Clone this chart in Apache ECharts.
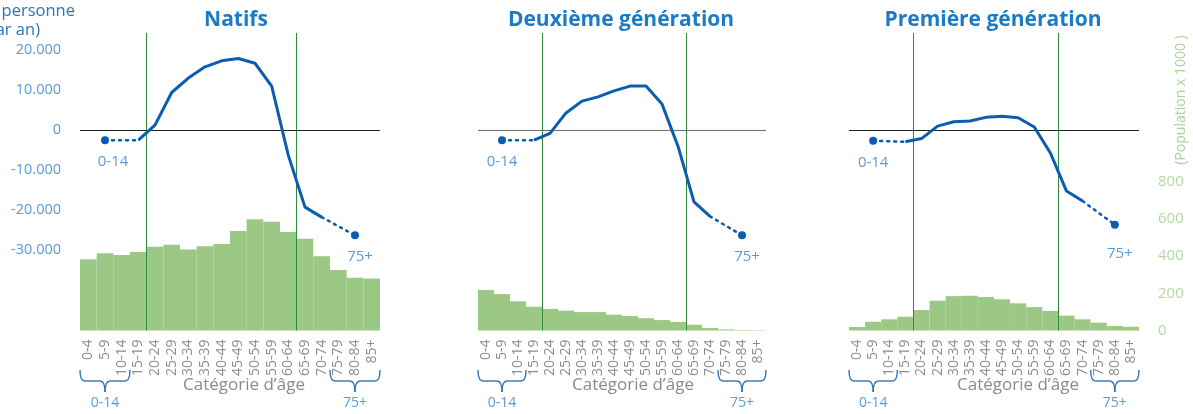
<!DOCTYPE html>
<html>
<head>
<meta charset="utf-8">
<script src="https://cdn.jsdelivr.net/npm/echarts@6/dist/echarts.min.js"></script>
<style>
  html, body { margin: 0; padding: 0; background: #fff; }
  #main { width: 1193px; height: 414px; }
</style>
</head>
<body>
<div id="main"></div>
<script>
// catégories d'âge (axe x)
const ageCats = ['0-4','5-9','10-14','15-19','20-24','25-29','30-34','35-39','40-44',
  '45-49','50-54','55-59','60-64','65-69','70-74','75-79','80-84','85+'];
const panelTitles = ['Natifs', 'Deuxième génération', 'Première génération'];

// population x 1000 (barres)
const popNatifs    = [383,415,406,422,450,461,436,453,465,535,598,585,530,494,399,325,284,279];
const popDeuxieme  = [218,196,157,128,116,107,99,99,85,78,66,56,46,31,13,6,3,2];
const popPremiere  = [19,47,60,74,110,160,185,187,180,168,146,126,105,80,60,42,24,20];

// contribution nette par personne, de 15-19 à 70-74
const contribNatifs   = [-2500,1250,9400,13000,15800,17300,17900,16700,11000,-6300,-19200,-21700];
const contribDeuxieme = [-2500,-800,4300,7250,8300,9800,11000,11000,6500,-4000,-17900,-21500];
const contribPremiere = [-2900,-2100,1000,2100,2300,3200,3500,3100,800,-5700,-15200,-17700];
// groupes agrégés
const contrib014    = [-2500, -2500, -2650];
const contrib75plus = [-26250, -26250, -23600];

const leftTicks = [-30000, -20000, -10000, 0, 10000, 20000];
const rightTicks = [0, 200, 400, 600, 800];

const pops = [popNatifs, popDeuxieme, popPremiere];
const contribs = [contribNatifs, contribDeuxieme, contribPremiere];

// mise en page
const grids = [
  { left: 80, width: 300 },
  { left: 478, width: 288 },
  { left: 849, width: 290 }
];
const titleX = [231, 616, 988];
const xNameX = [244, 633, 1018];
const zeroColors = ['#222', '#6e6e6e', '#222'];
const label014Off = [[8, 0], [0, 0], [0, 0]];
const label75Dist = [10, 10, 18];

const FONT = 'Open Sans';
const BLUE = '#0b5daf';
const LABEL_BLUE = '#5b9bd5';
const BAR_GREEN = '#9bc985';
const VLINE = '#2f8a3c';

function fmt(v) {
  const s = Math.abs(v).toString().replace(/\B(?=(\d{3})+(?!\d))/g, '.');
  return (v < 0 ? '-' : '') + s;
}

const chart = echarts.init(document.getElementById('main'));

const option = {
  animation: false,
  title: panelTitles.map((t, p) => ({
    text: t, left: titleX[p], top: 5, textAlign: 'center',
    textStyle: { fontSize: 21, fontWeight: 'bold', color: '#1b7bc4', fontFamily: FONT }
  })),
  grid: grids.map(g => ({ left: g.left, width: g.width, top: 33, height: 297.5 })),
  xAxis: [],
  yAxis: [],
  series: []
};

for (let p = 0; p < 3; p++) {
  option.xAxis.push({
    type: 'category', gridIndex: p, data: ageCats, boundaryGap: true,
    axisLine: { show: false }, axisTick: { show: false },
    axisLabel: { rotate: 90, interval: 0, margin: 9, color: '#8c8c8c', fontSize: 14, fontFamily: FONT }
  });
}
for (let p = 0; p < 3; p++) {
  // axe caché pour placer les lignes verticales entre les catégories
  option.xAxis.push({ type: 'value', gridIndex: p, min: -0.5, max: 17.5, show: false });
}
for (let p = 0; p < 3; p++) {
  option.yAxis.push({
    type: 'value', gridIndex: p, min: -50000, max: 24250, interval: 10000,
    splitLine: { show: false }, axisLine: { show: false }, axisTick: { show: false },
    axisLabel: {
      show: p === 0, margin: 19, color: LABEL_BLUE, fontSize: 14.5, fontFamily: FONT,
      showMaxLabel: false,
      formatter: v => leftTicks.indexOf(v) >= 0 ? fmt(v) : ''
    }
  });
}
for (let p = 0; p < 3; p++) {
  option.yAxis.push({
    type: 'value', gridIndex: p, position: 'right', min: 0, max: 1600, interval: 200,
    splitLine: { show: false }, axisLine: { show: false }, axisTick: { show: false },
    axisLabel: {
      show: p === 2, margin: 19, color: '#b3d9a2', fontSize: 15, fontFamily: FONT,
      formatter: v => rightTicks.indexOf(v) >= 0 ? String(v) : ''
    }
  });
}

for (let p = 0; p < 3; p++) {
  const c = contribs[p];
  const solid = ageCats.map((a, i) => (i >= 3 && i <= 14 ? c[i - 3] : null));

  option.series.push({
    type: 'bar', xAxisIndex: p, yAxisIndex: 3 + p, data: pops[p],
    barCategoryGap: '0%', itemStyle: { color: BAR_GREEN }, z: 1, silent: true
  });
  option.series.push({
    type: 'line', xAxisIndex: 3 + p, yAxisIndex: p, data: [[3.5, null]], symbol: 'none', silent: true,
    z: 3,
    markLine: {
      silent: true, symbol: 'none', label: { show: false },
      lineStyle: { color: VLINE, width: 1, type: 'solid' },
      data: [{ xAxis: 3.5 }, { xAxis: 12.5 }]
    }
  });
  option.series.push({
    type: 'line', xAxisIndex: p, yAxisIndex: p, data: solid, symbol: 'none', z: 5,
    lineStyle: { color: BLUE, width: 3 }, silent: true,
    markLine: {
      silent: true, symbol: 'none', label: { show: false },
      lineStyle: { color: zeroColors[p], width: 1.2, type: 'solid' },
      data: [{ yAxis: 0 }]
    }
  });
  option.series.push({
    type: 'line', xAxisIndex: p, yAxisIndex: p, z: 5, silent: true,
    lineStyle: { color: BLUE, width: 2.5, type: [2, 5], cap: 'round' },
    itemStyle: { color: BLUE },
    data: [
      { value: [1, contrib014[p]], symbol: 'circle', symbolSize: 8,
        label: { show: true, position: 'bottom', distance: 10, offset: label014Off[p], formatter: '0-14',
                 color: LABEL_BLUE, fontSize: 15, fontFamily: FONT } },
      { value: [3, c[0]], symbol: 'none' }
    ]
  });
  option.series.push({
    type: 'line', xAxisIndex: p, yAxisIndex: p, z: 5, silent: true,
    lineStyle: { color: BLUE, width: 2.5, type: [2, 5], cap: 'round' },
    itemStyle: { color: BLUE },
    data: [
      { value: [14, c[11]], symbol: 'none' },
      { value: [16, contrib75plus[p]], symbol: 'circle', symbolSize: 8,
        label: { show: true, position: 'bottom', distance: label75Dist[p], offset: [5, 0], formatter: '75+',
                 color: LABEL_BLUE, fontSize: 15, fontFamily: FONT } }
    ]
  });
}

chart.setOption(option);

// accolades sous les groupes 0-14 et 75+
const braceStyle = { stroke: '#2e75b6', lineWidth: 1.4, fill: null };
function brace(x0, x1) {
  const xc = (x0 + x1) / 2, yt = 370, ym = 381, yb = 392, r = 5;
  return [
    { type: 'bezierCurve', shape: { x1: x0, y1: yt, cpx1: x0, cpy1: ym, x2: x0 + r, y2: ym }, style: braceStyle },
    { type: 'line', shape: { x1: x0 + r, y1: ym, x2: xc - r, y2: ym }, style: braceStyle },
    { type: 'bezierCurve', shape: { x1: xc - r, y1: ym, cpx1: xc, cpy1: ym, x2: xc, y2: yb }, style: braceStyle },
    { type: 'bezierCurve', shape: { x1: xc, y1: yb, cpx1: xc, cpy1: ym, x2: xc + r, y2: ym }, style: braceStyle },
    { type: 'line', shape: { x1: xc + r, y1: ym, x2: x1 - r, y2: ym }, style: braceStyle },
    { type: 'bezierCurve', shape: { x1: x1 - r, y1: ym, cpx1: x1, cpy1: ym, x2: x1, y2: yt }, style: braceStyle }
  ];
}

const graphics = [];
for (let p = 0; p < 3; p++) {
  const px = v => chart.convertToPixel({ xAxisIndex: 3 + p }, v);
  const groups = [[-0.5, 2.5, '0-14'], [14.5, 17.5, '75+']];
  groups.forEach(g => {
    const x0 = px(g[0]), x1 = px(g[1]);
    brace(x0, x1).forEach(el => graphics.push(el));
    graphics.push({
      type: 'text', x: (x0 + x1) / 2, y: 403,
      style: { text: g[2], align: 'center', verticalAlign: 'middle', fill: LABEL_BLUE,
               fontSize: 14, fontFamily: FONT }
    });
  });
  graphics.push({
    type: 'text', x: xNameX[p], y: 385,
    style: { text: 'Catégorie d’âge', align: 'center', verticalAlign: 'middle', fill: '#8a8a8a',
             fontSize: 17, fontFamily: FONT }
  });
}
graphics.push({
  type: 'text', x: 75, y: 11,
  style: { text: '(€ par personne', align: 'right', verticalAlign: 'middle', fill: '#2e75b6',
           fontSize: 16.5, fontFamily: FONT }
});
graphics.push({
  type: 'text', x: 40, y: 30,
  style: { text: '(par an)', align: 'right', verticalAlign: 'middle', fill: '#2e75b6',
           fontSize: 16.5, fontFamily: FONT }
});
graphics.push({
  type: 'text', x: 1181, y: 100, rotation: Math.PI / 2,
  style: { text: '(Population x 1000 )', align: 'center', verticalAlign: 'middle', fill: '#a9d39a',
           fontSize: 14, fontFamily: FONT }
});

chart.setOption({ graphic: graphics });
</script>
</body>
</html>
